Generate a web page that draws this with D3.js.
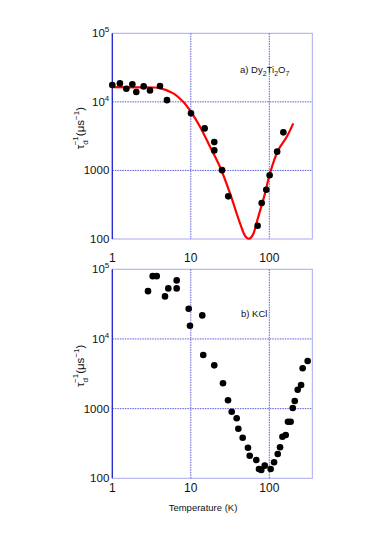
<!DOCTYPE html>
<html>
<head>
<meta charset="utf-8" />
<title>tau_d vs temperature</title>
<script src="https://cdn.jsdelivr.net/npm/d3@7"></script>
<style>
  body { margin: 0; background: #fff; }
  svg text { font-family: "Liberation Sans", Arial, sans-serif; fill: #111; }
</style>
</head>
<body>
<div id="chart"></div>
<script>
    // Dy2Ti2O7 measured points (T in K, rate in 1/us)
    let dyT = [1, 1.25, 1.51, 1.8, 2.02, 2.51, 3.02, 4.05, 4.97, 10.06, 15.0, 19.9, 19.9, 25, 30, 71, 80, 91.5, 101, 126, 151];
    let dyRate = [17600, 18600, 15500, 18000, 13900, 16800, 14700, 17000, 10600, 6800, 4100, 2590, 1960, 1010, 419, 156, 335, 524, 849, 1880, 3590];

    // fitted curve for Dy2Ti2O7
    let fitT = [1, 2, 4, 6, 8, 10, 13.1, 17.6, 23.5, 31.6, 42.4, 50, 55.6, 61.5, 72.4, 88.2, 102, 130, 167, 202];
    let fitRate = [16400, 16300, 15900, 13300, 10000, 7180, 4340, 2210, 1130, 463, 169, 108, 101, 114, 211, 463, 908, 1980, 3100, 4860];

    // KCl measured points
    let kclT = [2.85, 3.27, 3.68, 4.69, 5.17, 6.61, 6.61, 9.4, 9.77, 14.0, 14.4, 19.9, 25.7, 29.8, 33.2, 38.4, 40.3, 45.8, 53.5, 56.3,
        68.3, 73.9, 79, 87.4, 104, 115, 128, 137, 147, 162, 173, 187, 199, 211, 230, 254, 266, 308];
    let kclRate = [48600, 79800, 79800, 40800, 53200, 69300, 53200, 27100, 15500, 21800, 5880, 4180, 2310, 1320, 904, 726, 515, 382, 275, 211,
        183, 136, 132, 152, 136, 170, 223, 279, 395, 418, 649, 649, 1020, 1290, 1870, 2180, 3790, 4820];

    let xTicks = [1, 10, 100];
    let yTicks = [100, 1000, 1e4, 1e5];
    let yLabels = { 100: ['100', ''], 1000: ['1000', ''], 10000: ['10', '4'], 100000: ['10', '5'] };

    let W = 380, H = 538;
    let left = 112.3, right = 312.3;

    let svg = d3.select('#chart').append('svg')
        .attr('width', W)
        .attr('height', H);

    let x = d3.scaleLog().domain([1, 353]).range([left, right]);

    function panel(top, bottom, name) {
        let y = d3.scaleLog().domain([100, 1e5]).range([bottom, top]);
        let g = svg.append('g').attr('class', name);

        // frame
        g.append('rect')
            .attr('x', left).attr('y', top)
            .attr('width', right - left).attr('height', bottom - top)
            .attr('fill', 'none')
            .attr('stroke', '#a8a8f0')
            .attr('stroke-width', 1);

        // grid
        g.selectAll('.gx').data(xTicks.slice(1)).enter().append('line')
            .attr('x1', d => x(d)).attr('x2', d => x(d))
            .attr('y1', top).attr('y2', bottom)
            .attr('stroke', '#5a5ad8').attr('stroke-dasharray', '1.5,1');
        g.selectAll('.gy').data(yTicks.slice(1, 3)).enter().append('line')
            .attr('x1', left).attr('x2', right)
            .attr('y1', d => y(d)).attr('y2', d => y(d))
            .attr('stroke', '#5a5ad8').attr('stroke-dasharray', '1.5,1');

        // left axis line
        g.append('line')
            .attr('x1', left).attr('x2', left)
            .attr('y1', top).attr('y2', bottom)
            .attr('stroke', '#1a1ad0').attr('stroke-width', 1.2);

        // y tick labels
        let t = g.selectAll('.yl').data(yTicks).enter().append('text')
            .attr('x', left - 3)
            .attr('y', d => y(d) + 4)
            .attr('text-anchor', 'end')
            .attr('font-size', 11.5);
        t.append('tspan').text(d => yLabels[d][0]);
        t.append('tspan').attr('dy', -5).attr('font-size', 8).text(d => yLabels[d][1]);

        // y axis title
        let yl = g.append('text')
            .attr('transform', 'translate(' + 84 + ',' + ((top + bottom) / 2 - 8) + ') rotate(-90)')
            .attr('text-anchor', 'middle')
            .attr('font-size', 11.5);
        yl.append('tspan').text('\u03c4');
        yl.append('tspan').attr('dy', 4).attr('font-size', 8).text('d');
        yl.append('tspan').attr('dy', -10).attr('dx', -5).attr('font-size', 8).text('\u22121');
        yl.append('tspan').attr('dy', 6).text('(\u03bcs');
        yl.append('tspan').attr('dy', -5).attr('font-size', 8).text('\u22121');
        yl.append('tspan').attr('dy', 5).text(')');

        return { g: g, y: y };
    }

    let pa = panel(33.3, 239, 'top-panel');
    let pb = panel(269.3, 478.3, 'bottom-panel');

    // x tick labels between the panels and below the lower one
    svg.selectAll('.xmid').data(xTicks).enter().append('text')
        .attr('x', d => x(d)).attr('y', 262)
        .attr('text-anchor', 'middle').attr('font-size', 12)
        .text(d => d);
    svg.selectAll('.xbot').data(xTicks).enter().append('text')
        .attr('x', d => x(d)).attr('y', 492)
        .attr('text-anchor', 'middle').attr('font-size', 12)
        .text(d => d);
    svg.append('text')
        .attr('x', 203).attr('y', 511)
        .attr('text-anchor', 'middle').attr('font-size', 9.5)
        .text('Temperature (K)');

    // fitted curve
    let line = d3.line()
        .x((d, i) => x(fitT[i]))
        .y((d, i) => pa.y(fitRate[i]))
        .curve(d3.curveCatmullRom.alpha(0.5));
    pa.g.append('path')
        .datum(fitT)
        .attr('d', line)
        .attr('fill', 'none')
        .attr('stroke', '#ff0000')
        .attr('stroke-width', 2.2);

    pa.g.selectAll('.dot').data(dyT).enter().append('circle')
        .attr('cx', d => x(d))
        .attr('cy', (d, i) => pa.y(dyRate[i]))
        .attr('r', 3.3)
        .attr('fill', '#000');

    pb.g.selectAll('.dot').data(kclT).enter().append('circle')
        .attr('cx', d => x(d))
        .attr('cy', (d, i) => pb.y(kclRate[i]))
        .attr('r', 3.3)
        .attr('fill', '#000');

    // panel labels
    let la = svg.append('text')
        .attr('x', 240).attr('y', 73)
        .attr('font-family', '"Open Sans", sans-serif')
        .attr('font-size', 9.5);
    la.append('tspan').text('a) Dy');
    la.append('tspan').attr('dy', 3).attr('font-size', 7).text('2');
    la.append('tspan').attr('dy', -3).text('Ti');
    la.append('tspan').attr('dy', 3).attr('font-size', 7).text('2');
    la.append('tspan').attr('dy', -3).text('O');
    la.append('tspan').attr('dy', 3).attr('font-size', 7).text('7');

    svg.append('text')
        .attr('x', 241).attr('y', 317)
        .attr('font-family', '"Open Sans", sans-serif')
        .attr('font-size', 9.5)
        .text('b) KCl');
</script>
</body>
</html>
